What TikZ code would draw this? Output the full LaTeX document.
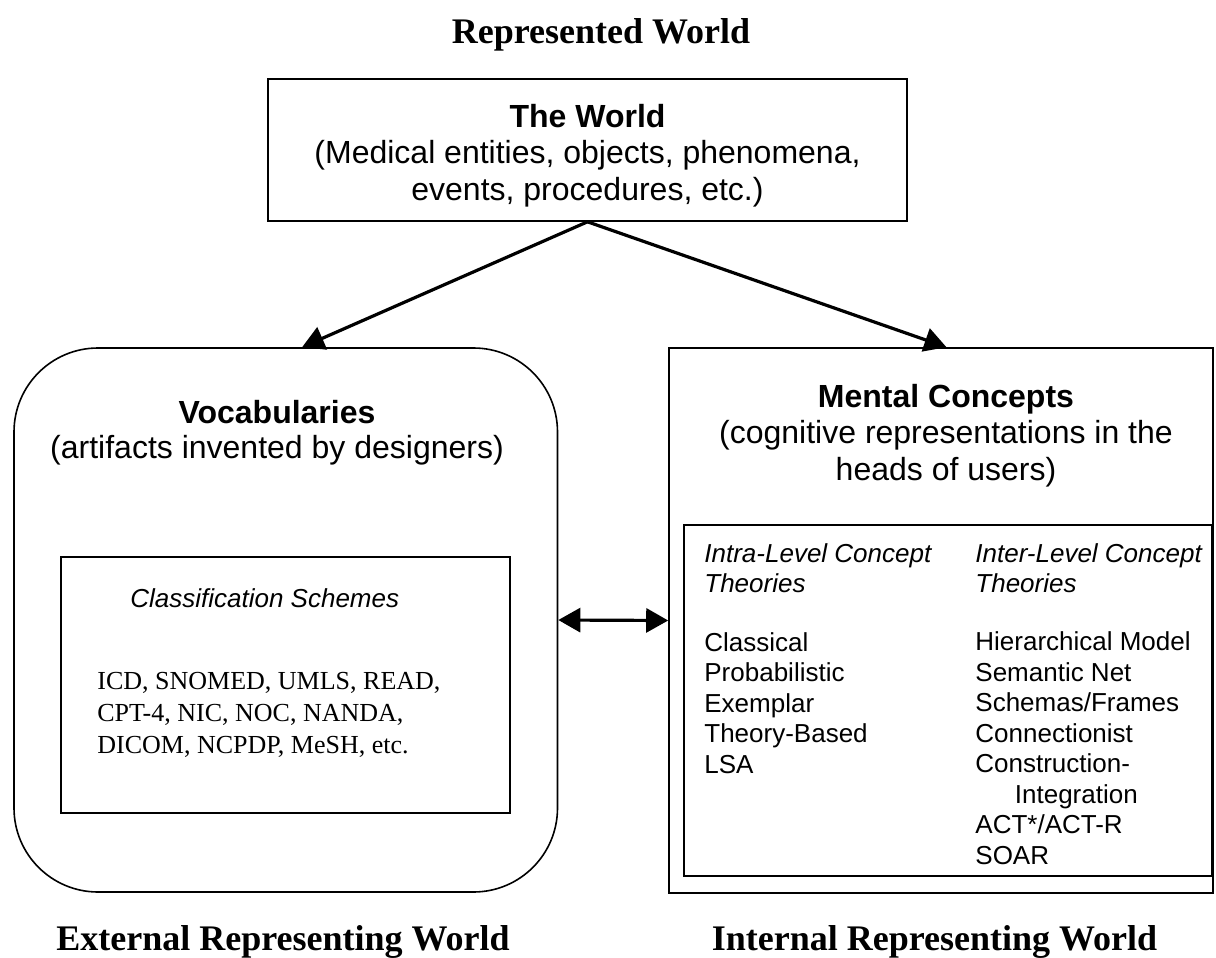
\documentclass[tikz,border=0pt]{standalone}
\usepackage{fontspec}
\setmainfont{Liberation Serif}
\setsansfont{Liberation Sans}
\usetikzlibrary{arrows.meta}
\usetikzlibrary{calc}
\usetikzlibrary{positioning}

\begin{document}
\begin{tikzpicture}[x=0.5pt, y=-0.5pt, >={Triangle[length=11pt,width=12pt]},
    worldlbl/.style={font=\fontsize{18}{20}\selectfont\bfseries, inner sep=0pt, anchor=base},
    plainbox/.style={draw, line width=0.8pt, inner sep=0pt},
    headtxt/.style={font=\sffamily\fontsize{16}{18.25}\selectfont, align=center, inner sep=0pt, anchor=base},
    listtxt/.style={font=\sffamily\fontsize{13}{15.25}\selectfont, align=left, inner sep=0pt, anchor=base west},
    link/.style={->, line width=1.6pt}]
    \useasboundingbox (0,0) rectangle (1216,958);

    % the three worlds
    \node[worldlbl] (represented) at (601,43) {Represented World};
    \node[worldlbl] (external) at (283,950) {External Representing World};
    \node[worldlbl] (internal) at (934.5,950) {Internal Representing World};

    % represented world (multi-line texts sit on their last baseline)
    \node[plainbox, minimum width=319.5pt, minimum height=71pt] (world) at (587.5,150) {};
    \node[headtxt] (worldtxt) at (587.5,200) {\textbf{The World}\\(Medical entities, objects, phenomena,\\events, procedures, etc.)};

    % external: vocabularies
    \node[plainbox, rounded corners=42pt, minimum width=271.75pt, minimum height=272pt] (vocab) at (285.75,620) {};
    \node[headtxt, font=\sffamily\fontsize{16}{17.8}\selectfont] (vocabtxt) at (277,458.6) {\textbf{Vocabularies}\\(artifacts invented by designers)};
    \node[plainbox, minimum width=224.5pt, minimum height=128pt] (schemes) at (285.5,685) {};
    \node[listtxt, font=\sffamily\itshape\fontsize{13}{15.25}\selectfont] (schemestitle) at (130,607) {Classification Schemes};
    \node[listtxt, font=\fontsize{13}{16}\selectfont] (schemeslist) at (97,753) {ICD, SNOMED, UMLS, READ,\\CPT-4, NIC, NOC, NANDA,\\DICOM, NCPDP, MeSH, etc.};

    % internal: mental concepts
    \node[plainbox, minimum width=272pt, minimum height=272.5pt] (mental) at (941,620.5) {};
    \node[headtxt] (mentaltxt) at (946,480) {\textbf{Mental Concepts}\\(cognitive representations in the\\heads of users)};
    \node[plainbox, minimum width=264pt, minimum height=175.5pt] (theories) at (948,700.5) {};
    \node[listtxt, font=\sffamily\itshape\fontsize{13}{15.25}\selectfont] (intrahead) at (704,592.5) {Intra-Level Concept\\Theories};
    \node[listtxt] (intralist) at (704,773) {Classical\\Probabilistic\\Exemplar\\Theory-Based\\LSA};
    \node[listtxt, font=\sffamily\itshape\fontsize{13}{15.25}\selectfont] (interhead) at (975,592.5) {Inter-Level Concept\\Theories};
    \node[listtxt] (interlist) at (975,864) {Hierarchical Model\\Semantic Net\\Schemas/Frames\\Connectionist\\Construction-\\\hspace*{19.75pt}Integration\\ACT*/ACT-R\\SOAR};

    % connectors
    \draw[link] (world.south) -- ($(vocab.north west)!0.53!(vocab.north east)$);
    \draw[link] (world.south) -- ($(mental.north west)!0.51!(mental.north east)$);
    \draw[link, <->] (vocab.east) -- (mental.west);
\end{tikzpicture}
\end{document}
